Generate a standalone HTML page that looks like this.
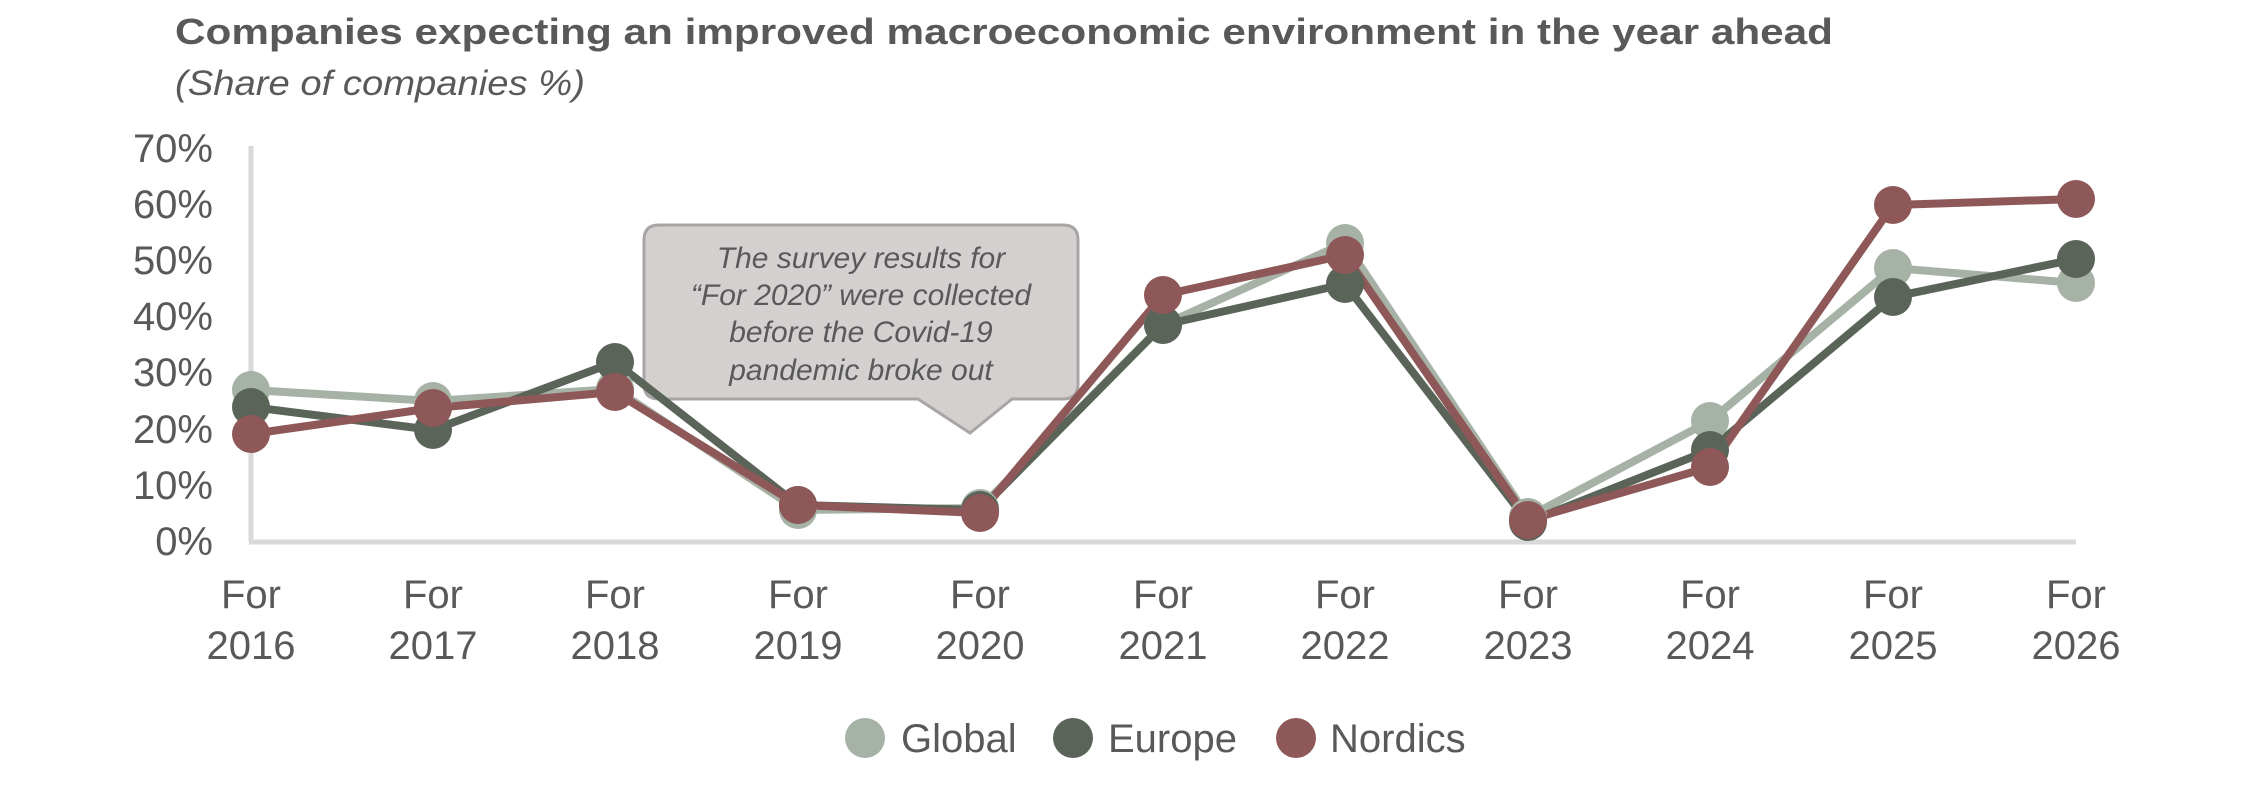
<!DOCTYPE html>
<html><head><meta charset="utf-8"><style>html,body{margin:0;padding:0;background:#fff}svg{display:block}</style></head>
<body>
<svg width="2250" height="790" viewBox="0 0 2250 790" xmlns="http://www.w3.org/2000/svg" font-family="Liberation Sans, sans-serif">
<text x="175" y="44" font-size="36" font-weight="bold" fill="#595959" textLength="1658" lengthAdjust="spacingAndGlyphs">Companies expecting an improved macroeconomic environment in the year ahead</text>
<text x="175" y="95" font-size="35" font-style="italic" fill="#595959" textLength="410" lengthAdjust="spacingAndGlyphs">(Share of companies %)</text>
<g font-size="40" fill="#595959" text-anchor="end">
<text x="213" y="555">0%</text><text x="213" y="499">10%</text><text x="213" y="443">20%</text><text x="213" y="386">30%</text><text x="213" y="330">40%</text><text x="213" y="274">50%</text><text x="213" y="218">60%</text><text x="213" y="162">70%</text>
</g>
<line x1="251" y1="146" x2="251" y2="542" stroke="#d9d9d9" stroke-width="5"/>
<line x1="249" y1="542" x2="2076" y2="542" stroke="#d9d9d9" stroke-width="5"/>
<g font-size="40" fill="#595959" text-anchor="middle">
<text x="251" y="608">For</text><text x="251" y="659">2016</text>
<text x="433" y="608">For</text><text x="433" y="659">2017</text>
<text x="615" y="608">For</text><text x="615" y="659">2018</text>
<text x="798" y="608">For</text><text x="798" y="659">2019</text>
<text x="980" y="608">For</text><text x="980" y="659">2020</text>
<text x="1163" y="608">For</text><text x="1163" y="659">2021</text>
<text x="1345" y="608">For</text><text x="1345" y="659">2022</text>
<text x="1528" y="608">For</text><text x="1528" y="659">2023</text>
<text x="1710" y="608">For</text><text x="1710" y="659">2024</text>
<text x="1893" y="608">For</text><text x="1893" y="659">2025</text>
<text x="2076" y="608">For</text><text x="2076" y="659">2026</text>
</g>
<path d="M659,225 H1063 Q1078,225 1078,240 V384 Q1078,399 1063,399 H1012 L970,433 L918,399 H659 Q644,399 644,384 V240 Q644,225 659,225 Z" fill="#d4d0cf" stroke="#aaa5a5" stroke-width="3"/>
<g font-size="30" font-style="italic" fill="#595959" text-anchor="middle">
<text x="861" y="268">The survey results for</text>
<text x="861" y="305">“For 2020” were collected</text>
<text x="861" y="342">before the Covid-19</text>
<text x="861" y="380">pandemic broke out</text>
</g>
<g stroke-width="8" fill="none" stroke-linejoin="round">
<polyline stroke="#a6b2a6" points="251,390 433,401 615,389 798,510 980,508 1163,325 1345,243 1528,517 1710,421 1893,268 2076,283"/>
<polyline stroke="#5a6459" points="251,407 433,430 615,362 798,505 980,510 1163,325 1345,284 1528,522 1710,450 1893,297 2076,259"/>
<polyline stroke="#8f5858" points="251,434 433,408 615,392 798,505 980,513 1163,295 1345,255 1528,520 1710,467 1893,205 2076,199"/>
</g>
<g fill="#a6b2a6"><circle cx="251" cy="390" r="19"/><circle cx="433" cy="401" r="19"/><circle cx="615" cy="389" r="19"/><circle cx="798" cy="510" r="19"/><circle cx="980" cy="508" r="19"/><circle cx="1163" cy="325" r="19"/><circle cx="1345" cy="243" r="19"/><circle cx="1528" cy="517" r="19"/><circle cx="1710" cy="421" r="19"/><circle cx="1893" cy="268" r="19"/><circle cx="2076" cy="283" r="19"/></g>
<g fill="#5a6459"><circle cx="251" cy="407" r="19"/><circle cx="433" cy="430" r="19"/><circle cx="615" cy="362" r="19"/><circle cx="798" cy="505" r="19"/><circle cx="980" cy="510" r="19"/><circle cx="1163" cy="325" r="19"/><circle cx="1345" cy="284" r="19"/><circle cx="1528" cy="522" r="19"/><circle cx="1710" cy="450" r="19"/><circle cx="1893" cy="297" r="19"/><circle cx="2076" cy="259" r="19"/></g>
<g fill="#8f5858"><circle cx="251" cy="434" r="19"/><circle cx="433" cy="408" r="19"/><circle cx="615" cy="392" r="19"/><circle cx="798" cy="505" r="19"/><circle cx="980" cy="513" r="19"/><circle cx="1163" cy="295" r="19"/><circle cx="1345" cy="255" r="19"/><circle cx="1528" cy="520" r="19"/><circle cx="1710" cy="467" r="19"/><circle cx="1893" cy="205" r="19"/><circle cx="2076" cy="199" r="19"/></g>
<circle cx="865" cy="738" r="20" fill="#a6b2a6"/><text x="901" y="752" font-size="40" fill="#595959">Global</text>
<circle cx="1073" cy="738" r="20" fill="#5a6459"/><text x="1108" y="752" font-size="40" fill="#595959">Europe</text>
<circle cx="1296" cy="738" r="20" fill="#8f5858"/><text x="1330" y="752" font-size="40" fill="#595959">Nordics</text>
</svg>
</body></html>
